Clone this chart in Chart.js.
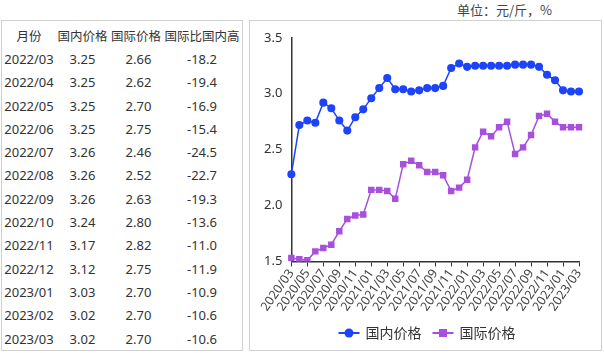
<!DOCTYPE html>
<html>
<head>
  <meta charset="utf-8">
  <title>国内外价格对比</title>
  <script src="https://cdn.jsdelivr.net/npm/chart.js@4.4.1/dist/chart.umd.min.js"></script>
  <style>
    body { margin: 0; background: #fff; font-family: "Noto Sans", "Noto Sans CJK SC", sans-serif; color: #333; }
    .unit { position: absolute; left: 457px; top: 0px; font-size: 13px; color: #444; font-family: "Noto Sans CJK SC", sans-serif; }
    .table-box { position: absolute; left: 1px; top: 20px; width: 240px; height: 329px; border: 1px solid #d0d0d0; }
    .table-box table { border-collapse: collapse; margin-top: 3px; font-size: 13px; }
    .table-box td, .table-box th { padding: 0; height: 23.3px; text-align: center; font-weight: normal; white-space: nowrap; }
    .table-box th { font-size: 12.5px; }
    .chart-box { position: absolute; left: 249px; top: 20px; width: 351px; height: 329px; border: 1px solid #d0d0d0; }
  </style>
</head>
<body>
<div class="unit">单位：元/斤，%</div>
<div class="table-box">
  <table id="tbl"></table>
</div>
<div class="chart-box">
  <canvas id="myChart" width="351" height="329"></canvas>
</div>

<script>
// months 2020/03 .. 2023/03
var months = ['2020/03','2020/04','2020/05','2020/06','2020/07','2020/08','2020/09','2020/10','2020/11','2020/12',
  '2021/01','2021/02','2021/03','2021/04','2021/05','2021/06','2021/07','2021/08','2021/09','2021/10','2021/11','2021/12',
  '2022/01','2022/02','2022/03','2022/04','2022/05','2022/06','2022/07','2022/08','2022/09','2022/10','2022/11','2022/12',
  '2023/01','2023/02','2023/03'];
var domestic = [2.28, 2.72, 2.76, 2.74, 2.92, 2.87, 2.76, 2.67, 2.79, 2.86,
  2.96, 3.05, 3.14, 3.04, 3.04, 3.02, 3.03, 3.05, 3.05, 3.07, 3.23, 3.27,
  3.24, 3.25, 3.25, 3.25, 3.25, 3.25, 3.26, 3.26, 3.26, 3.24, 3.17, 3.12,
  3.03, 3.02, 3.02];
var international = [1.53, 1.52, 1.51, 1.59, 1.62, 1.65, 1.77, 1.88, 1.91, 1.92,
  2.14, 2.14, 2.13, 2.06, 2.37, 2.40, 2.36, 2.30, 2.30, 2.27, 2.13, 2.16,
  2.23, 2.52, 2.66, 2.62, 2.70, 2.75, 2.46, 2.52, 2.63, 2.80, 2.82, 2.75,
  2.70, 2.70, 2.70];

// table
var tableHeaders = ['月份', '国内价格', '国际价格', '国际比国内高'];
var tableMonths = ['2022/03','2022/04','2022/05','2022/06','2022/07','2022/08','2022/09','2022/10','2022/11','2022/12','2023/01','2023/02','2023/03'];
var tableDomestic = ['3.25','3.25','3.25','3.25','3.26','3.26','3.26','3.24','3.17','3.12','3.03','3.02','3.02'];
var tableIntl = ['2.66','2.62','2.70','2.75','2.46','2.52','2.63','2.80','2.82','2.75','2.70','2.70','2.70'];
var tableDiff = ['-18.2','-19.4','-16.9','-15.4','-24.5','-22.7','-19.3','-13.6','-11.0','-11.9','-10.9','-10.6','-10.6'];

var colWidths = [54, 53, 54, 78];
var tbl = document.getElementById('tbl');
var html = '<tr>' + tableHeaders.map(function(h, i) { return '<th style="width:' + colWidths[i] + 'px">' + h + '</th>'; }).join('') + '</tr>';
tableMonths.forEach(function(m, i) {
  html += '<tr><td>' + m + '</td><td>' + tableDomestic[i] + '</td><td style="padding-left:5px">' + tableIntl[i] + '</td><td>' + tableDiff[i] + '</td></tr>';
});
tbl.innerHTML = html;

var blue = '#1d43fb';
var purple = '#a650dd';

// legend with line + marker, drawn under the axis labels
var lineLegend = {
  id: 'lineLegend',
  afterDraw: function(chart) {
    var ctx = chart.ctx;
    var y = chart.height - 17;
    ctx.save();
    ctx.font = '14px "Noto Sans CJK SC", sans-serif';
    var items = chart.data.datasets.map(function(ds) {
      return { label: ds.label, color: ds.borderColor, style: ds.pointStyle, w: 28 + ctx.measureText(ds.label).width };
    });
    var gap = 10;
    var total = items.reduce(function(s, it) { return s + it.w; }, 0) + gap * (items.length - 1);
    var x = (chart.width - total) / 2 + 2;
    items.forEach(function(it) {
      ctx.strokeStyle = it.color;
      ctx.fillStyle = it.color;
      ctx.lineWidth = 2;
      ctx.beginPath();
      ctx.moveTo(x, y); ctx.lineTo(x + 21, y);
      ctx.stroke();
      if (it.style === 'rect') {
        ctx.fillRect(x + 10.5 - 4, y - 4, 8, 8);
      } else {
        ctx.beginPath();
        ctx.arc(x + 10.5, y, 4.5, 0, Math.PI * 2);
        ctx.fill();
      }
      ctx.fillStyle = '#333';
      ctx.textBaseline = 'middle';
      ctx.fillText(it.label, x + 27, y);
      x += it.w + gap;
    });
    ctx.restore();
  }
};

var ctx = document.getElementById('myChart').getContext('2d');
var myChart = new Chart(ctx, {
  type: 'line',
  data: {
    labels: months,
    datasets: [{
      label: '国内价格',
      data: domestic,
      borderColor: blue,
      backgroundColor: blue,
      borderWidth: 1.5,
      pointStyle: 'circle',
      pointRadius: 3.3,
      tension: 0
    }, {
      label: '国际价格',
      data: international,
      borderColor: purple,
      backgroundColor: purple,
      borderWidth: 1.5,
      pointStyle: 'rect',
      pointRadius: 3.5,
      tension: 0
    }]
  },
  options: {
    responsive: false,
    animation: false,
    layout: { padding: { left: 5, right: 22, top: 12, bottom: 36 } },
    plugins: {
      legend: { display: false },
      tooltip: { enabled: false }
    },
    scales: {
      x: {
        grid: {
          drawOnChartArea: false,
          drawTicks: true,
          tickLength: 5,
          tickColor: function(c) { return c.index % 2 === 0 ? '#333' : 'rgba(0,0,0,0)'; }
        },
        border: { color: '#333', width: 1.5 },
        ticks: {
          autoSkip: false,
          maxRotation: 55,
          minRotation: 55,
          padding: 0,
          color: '#444',
          font: { size: 12.5, family: '"Noto Sans", sans-serif' },
          callback: function(v, i) { return i % 2 === 0 ? months[i] : ''; }
        }
      },
      y: {
        min: 1.5,
        max: 3.5,
        grid: { drawOnChartArea: false, drawTicks: false },
        border: { color: '#333', width: 1.5 },
        ticks: {
          stepSize: 0.5,
          padding: 9,
          color: '#333',
          font: { size: 13, family: '"Noto Sans", sans-serif' },
          callback: function(v) { return v.toFixed(1); }
        }
      }
    }
  },
  plugins: [lineLegend]
});
</script>
</body>
</html>
